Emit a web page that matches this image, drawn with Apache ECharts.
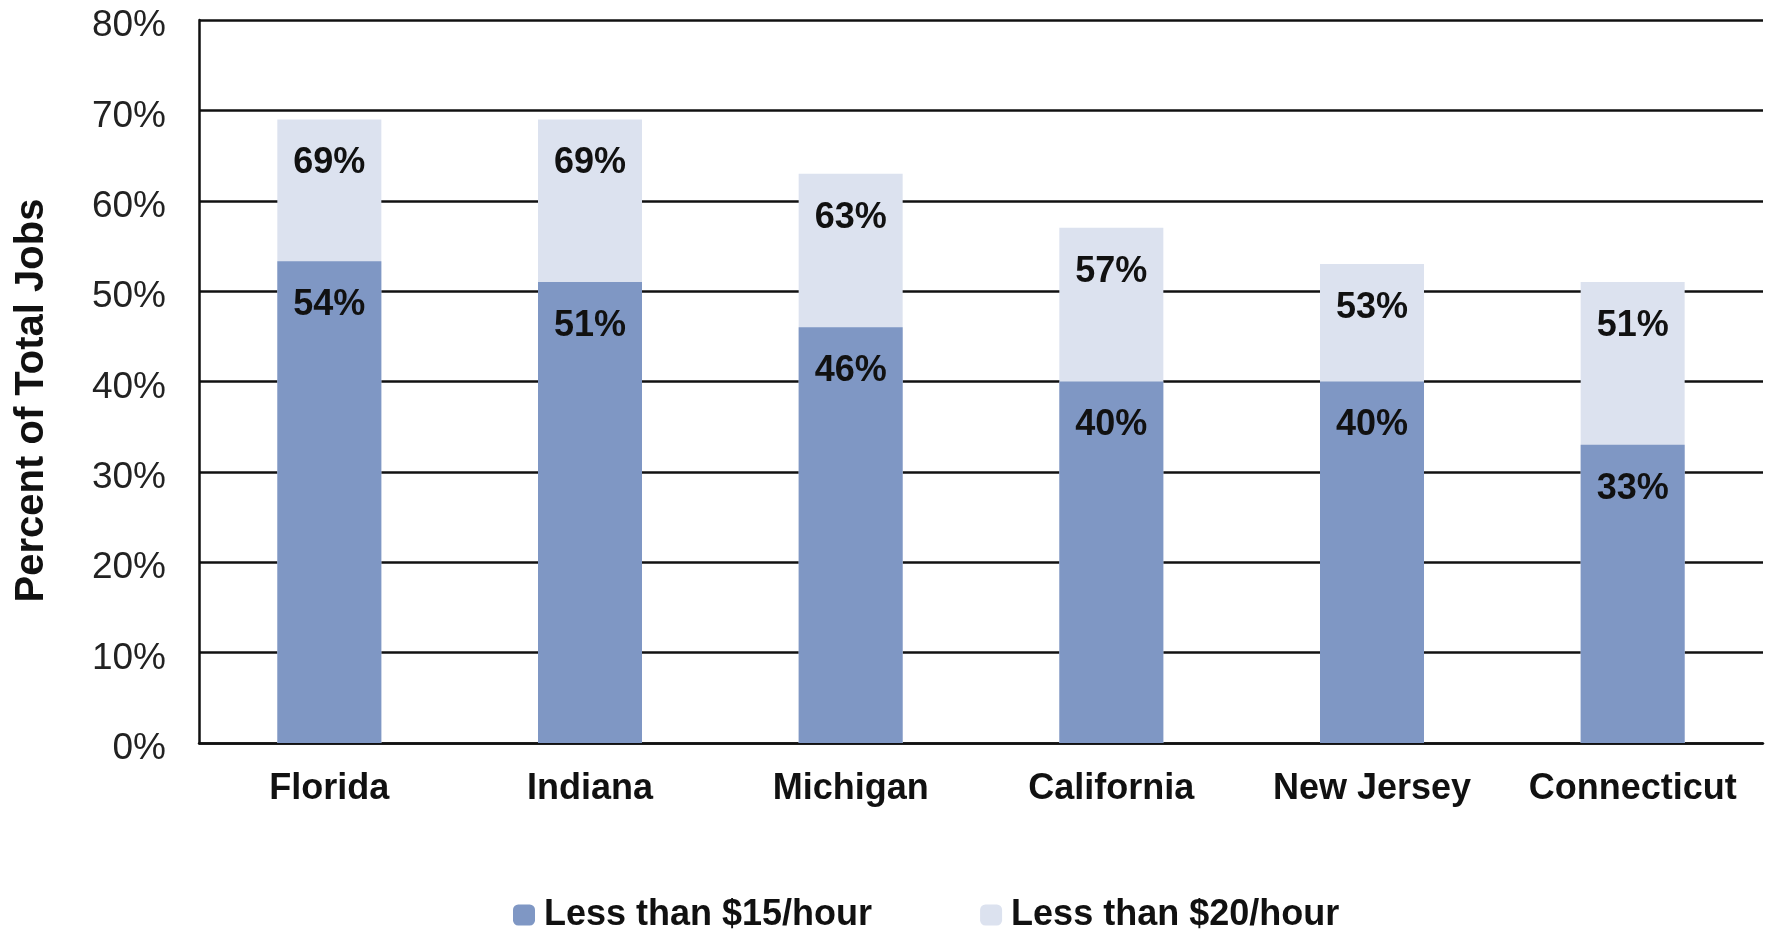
<!DOCTYPE html>
<html>
<head>
<meta charset="utf-8">
<script src="https://cdn.jsdelivr.net/npm/echarts@6/dist/echarts.min.js"></script>
<style>
  html, body { margin: 0; padding: 0; background: #fff; }
  #chart { width: 1765px; height: 929px; }
</style>
</head>
<body>
<div id="chart"></div>
<script>
const states = ['Florida', 'Indiana', 'Michigan', 'California', 'New Jersey', 'Connecticut']
const under15 = [53.3, 51, 46, 40, 40, 33]
const under20 = [69, 69, 63, 57, 53, 51]
const under15Labels = ['54%', '51%', '46%', '40%', '40%', '33%']
const under20Labels = ['69%', '69%', '63%', '57%', '53%', '51%']
const yTicks = [0, 10, 20, 30, 40, 50, 60, 70, 80]

const FONT = '"Liberation Sans", Arial, sans-serif'
const DARK = '#7f97c4'
const LIGHT = '#dce2ef'

const chart = echarts.init(document.getElementById('chart'))

const barLabel = (texts) => ({
  show: true,
  position: 'insideTop',
  distance: 26,
  color: '#111',
  fontFamily: FONT,
  fontWeight: 'bold',
  fontSize: 36,
  formatter: (p) => texts[p.dataIndex]
})

chart.setOption({
  animation: false,
  textStyle: { fontFamily: FONT },
  grid: { left: 199, right: 2, top: 20, bottom: 186, outerBoundsMode: 'none' },
  legend: {
    left: 508,
    top: 892,
    itemWidth: 22,
    itemHeight: 21,
    itemGap: 108,
    data: ['Less than $15/hour', 'Less than $20/hour'],
    textStyle: {
      fontFamily: FONT,
      fontWeight: 'bold',
      fontSize: 36,
      color: '#111',
      padding: [0, 0, 0, 4]
    }
  },
  xAxis: {
    type: 'category',
    data: states,
    axisTick: { show: false },
    axisLine: { lineStyle: { color: '#111', width: 2.5 } },
    axisLabel: {
      interval: 0,
      margin: 28,
      color: '#111',
      fontFamily: FONT,
      fontWeight: 'bold',
      fontSize: 36
    }
  },
  yAxis: {
    type: 'value',
    min: yTicks[0],
    max: yTicks[yTicks.length - 1],
    interval: 10,
    name: 'Percent of Total Jobs',
    nameLocation: 'middle',
    nameGap: 147,
    nameTextStyle: {
      color: '#111',
      fontFamily: FONT,
      fontWeight: 'bold',
      fontSize: 40,
      padding: [0, 38, 0, 0]
    },
    axisLine: { show: true, lineStyle: { color: '#111', width: 2.5 } },
    axisTick: { show: false },
    splitLine: { lineStyle: { color: '#111', width: 2.5 } },
    axisLabel: {
      margin: 33,
      formatter: '{t|{value}%}',
      rich: {
        t: {
          color: '#222',
          fontFamily: FONT,
          fontSize: 37,
          padding: [12, 0, 0, 0]
        }
      }
    }
  },
  series: [
    {
      name: 'Less than $20/hour',
      type: 'bar',
      data: under20,
      barWidth: 104,
      barGap: '-100%',
      itemStyle: { color: LIGHT },
      label: barLabel(under20Labels)
    },
    {
      name: 'Less than $15/hour',
      type: 'bar',
      data: under15,
      barWidth: 104,
      barGap: '-100%',
      itemStyle: { color: DARK },
      label: barLabel(under15Labels)
    }
  ]
})

window.addEventListener('resize', () => chart.resize())
</script>
</body>
</html>
